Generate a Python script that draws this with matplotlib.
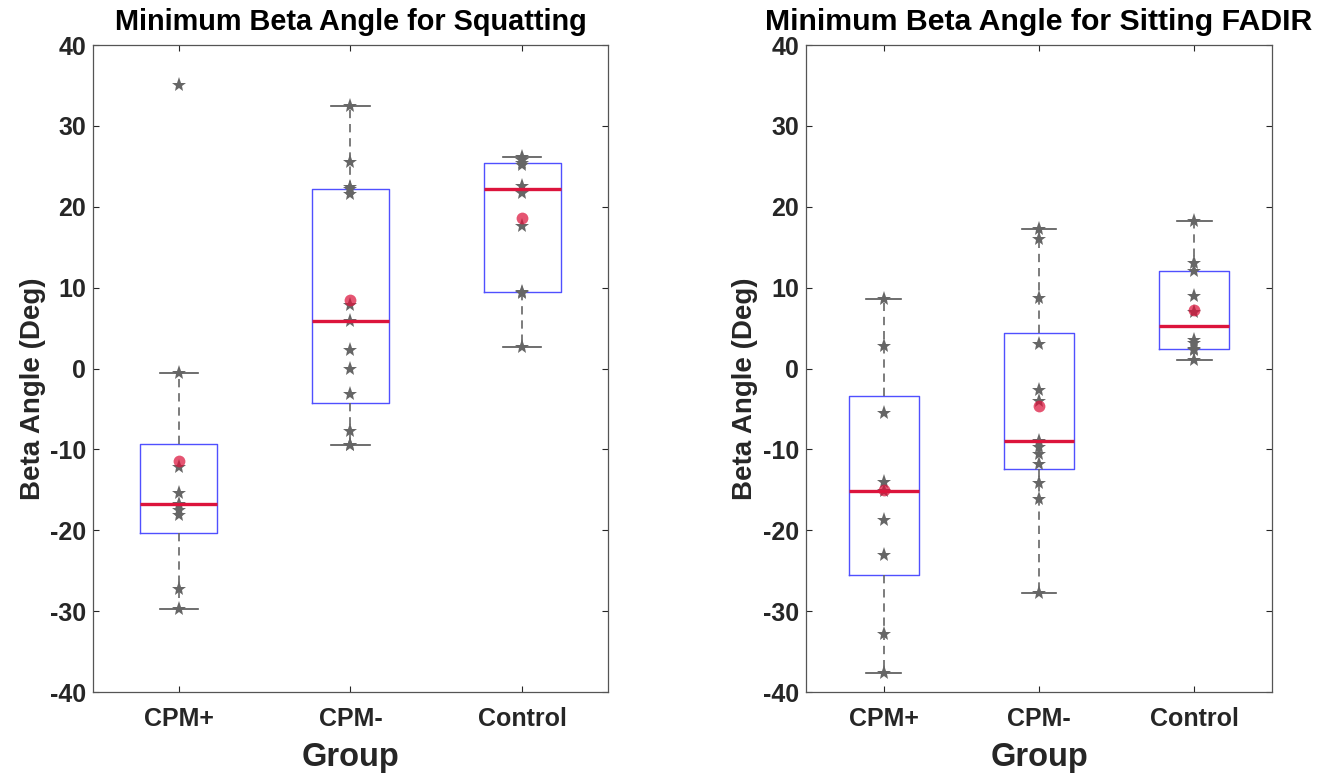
import matplotlib
matplotlib.use("Agg")
import matplotlib.pyplot as plt
import numpy as np

plt.rcParams['font.family'] = ['Liberation Sans', 'DejaVu Sans']
plt.rcParams['font.weight'] = 'bold'
plt.rcParams['axes.unicode_minus'] = False

groups = ['CPM+', 'CPM-', 'Control']

# minimum beta angle (deg) per subject
squat_cpm_pos = [35.0, -0.6, -12.2, -15.4, -16.8, -17.5, -18.1, -27.2, -29.7]
squat_cpm_neg = [32.4, 25.5, 22.4, 22.2, 21.6, 7.9, 5.9, 2.3, 0.0, -3.1, -7.7, -9.4, -9.4]
squat_control = [26.2, 25.8, 25.4, 25.2, 22.6, 21.7, 17.6, 9.4, 9.3, 2.6]

fadir_cpm_pos = [8.6, 2.8, -5.5, -14.0, -15.2, -18.7, -23.1, -32.8, -37.6]
fadir_cpm_neg = [17.2, 16.0, 8.75, 3.0, -2.7, -4.0, -9.0, -9.7, -10.6, -11.8, -14.2, -16.1, -27.7]
fadir_control = [18.2, 13.0, 12.1, 9.0, 7.0, 3.5, 3.2, 2.4, 2.3, 1.1]

titles = ['Minimum Beta Angle for Squatting', 'Minimum Beta Angle for Sitting FADIR']
title_sizes = [20.8, 21.8]
yticks = [-40, -30, -20, -10, 0, 10, 20, 30, 40]


def box_stats(values):
    # matlab style quartiles (hazen) and 1.5 IQR whiskers
    v = np.asarray(values, dtype=float)
    q1, med, q3 = np.percentile(v, [25, 50, 75], method='hazen')
    iqr = q3 - q1
    lo = v[v >= q1 - 1.5 * iqr].min()
    hi = v[v <= q3 + 1.5 * iqr].max()
    return dict(med=med, q1=q1, q3=q3, whislo=lo, whishi=hi,
                mean=v.mean(), fliers=[])


def draw_panel(ax, data, title, title_size, ylab_x):
    positions = np.arange(1, len(groups) + 1)
    stats = [box_stats(d) for d in data]
    ax.bxp(stats, positions=positions, widths=0.45, capwidths=0.225,
           showfliers=False, showmeans=False,
           boxprops=dict(color='#5050ff', linewidth=1.0),
           medianprops=dict(color='#dc143c', linewidth=2.4),
           whiskerprops=dict(color='#666666', linewidth=1.2,
                             linestyle=(0, (5, 3.5))),
           capprops=dict(color='#555555', linewidth=1.2))

    for pos, d in zip(positions, data):
        ax.plot(np.full(len(d), pos), d, linestyle='none', marker='*',
                markersize=11, color='#666666', markeredgewidth=0)
    means = [s['mean'] for s in stats]
    ax.plot(positions, means, linestyle='none', marker='o', markersize=8.5,
            color='#dc143c', alpha=0.72, markeredgewidth=0)

    ax.set_xlim(0.5, len(groups) + 0.5)
    ax.set_ylim(-40, 40)
    ax.set_yticks(yticks)
    ax.set_xticks(positions)
    ax.set_xticklabels(groups)
    ax.tick_params(axis='both', direction='in', top=True, right=True,
                   length=4, width=0.8, color='#262626',
                   labelcolor='#262626', labelsize=18)
    ax.tick_params(axis='x', pad=11)
    ax.tick_params(axis='y', pad=5)
    for sp in ax.spines.values():
        sp.set_color('#555555')
        sp.set_linewidth(0.9)
    ax.set_title(title, fontsize=title_size, fontweight='bold', pad=11)
    ax.set_xlabel('Group', fontsize=23.5, fontweight='bold',
                  color='#262626', labelpad=8)
    ax.set_ylabel('Beta Angle (Deg)', fontsize=20, fontweight='bold',
                  color='#262626')
    ax.yaxis.set_label_coords(ylab_x, 0.468)


fig = plt.figure(figsize=(13.38, 7.76), dpi=100)
ax1 = fig.add_axes([0.0695, 0.1082, 0.3849, 0.8338])
ax2 = fig.add_axes([0.6024, 0.1082, 0.3483, 0.8338])

draw_panel(ax1, [squat_cpm_pos, squat_cpm_neg, squat_control],
           titles[0], title_sizes[0], -0.092)
draw_panel(ax2, [fadir_cpm_pos, fadir_cpm_neg, fadir_control],
           titles[1], title_sizes[1], -0.102)

fig.savefig('out.png', dpi=100)
